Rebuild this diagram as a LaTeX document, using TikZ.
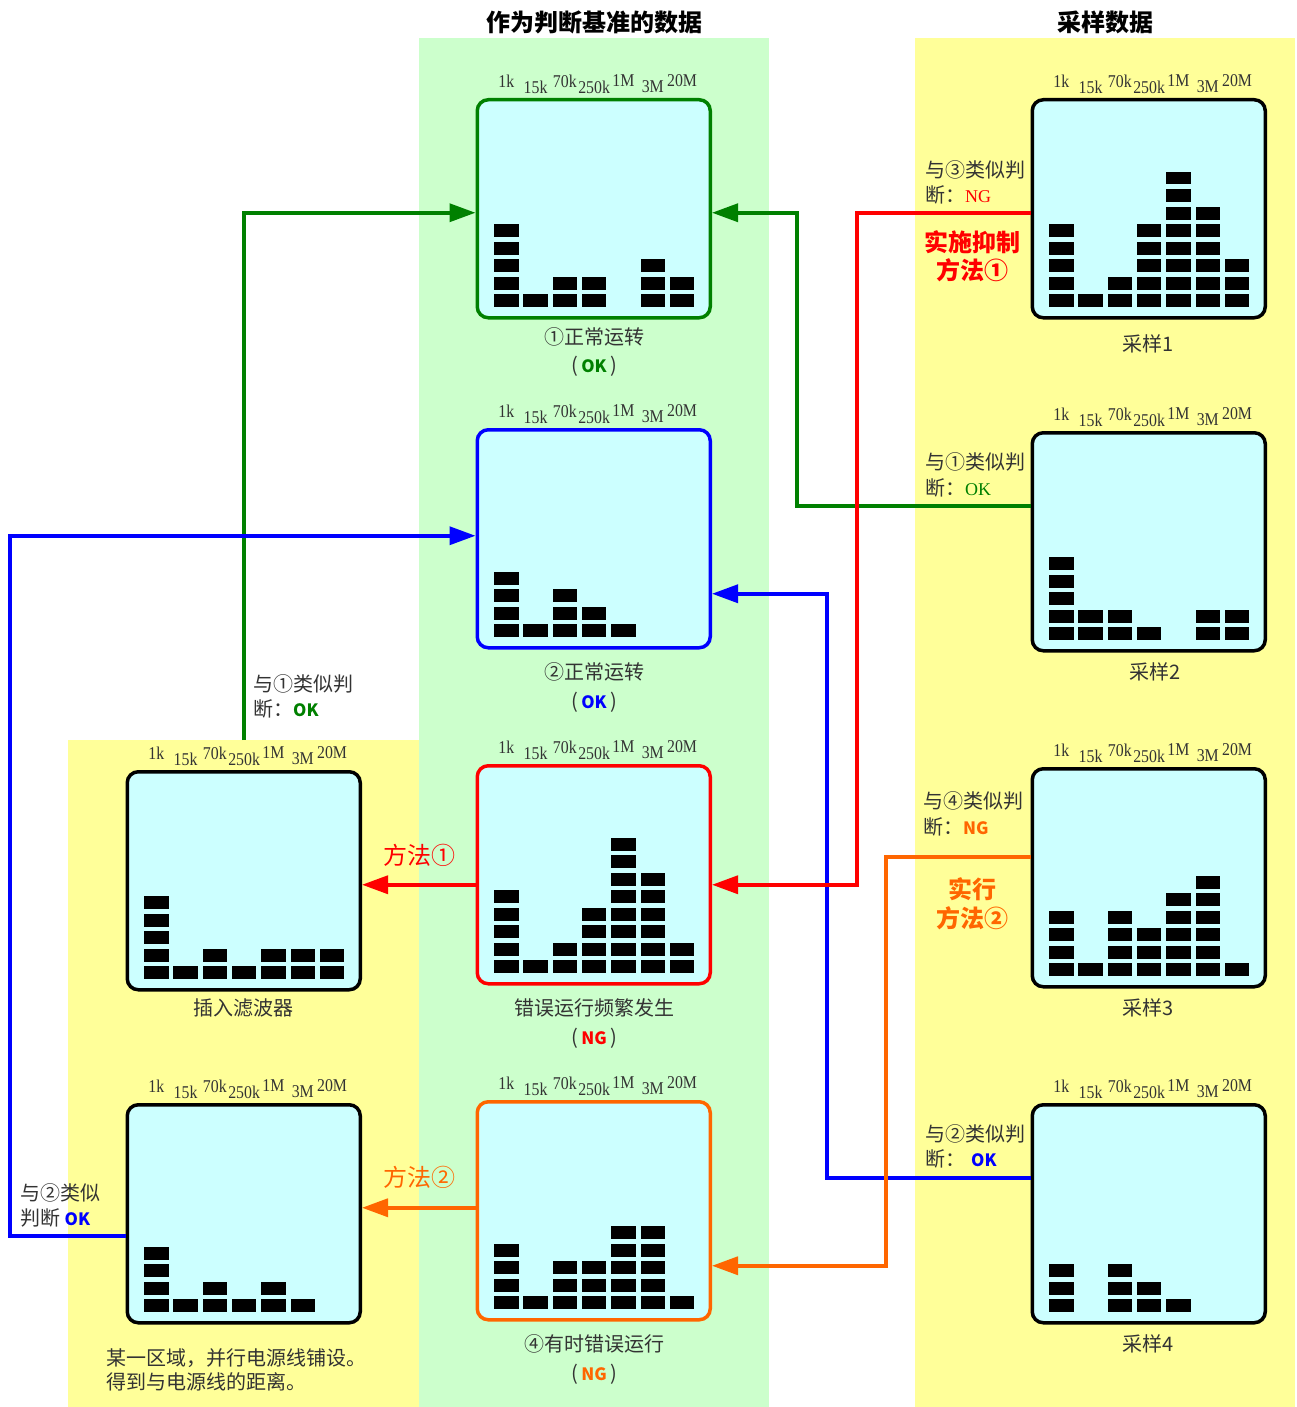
\documentclass[tikz,border=0pt]{standalone}
\usepackage{fontspec}
\setmainfont{Liberation Serif}
\newfontfamily\cjk{Noto Sans CJK SC}
\usetikzlibrary{arrows.meta,calc}
\definecolor{bggreen}{HTML}{CCFFCC}
\definecolor{bgyellow}{HTML}{FFFF99}
\definecolor{scr}{HTML}{CCFFFF}
\definecolor{cgreen}{HTML}{008000}
\definecolor{cblue}{HTML}{0000FF}
\definecolor{cred}{HTML}{FF0000}
\definecolor{corange}{HTML}{FF6600}
\definecolor{txt}{HTML}{333333}
\newcommand\okng[2]{\textcolor{#1}{\cjk\bfseries\fontsize{17}{17}\selectfont #2}}
\newcommand\specbox[5]{%
  \node[scrbox, draw=#4] (#1) at ({#2-1.5},{#3-1}) {};
  \foreach \h [count=\i from 0] in {#5} {
    \foreach \j in {1,...,8} {
      \ifnum\j>\h\relax\else
        \fill ({#2+17+\i*29.3},{#3+208-(\j-1)*17.5}) rectangle ++(24.5,-12.7);
      \fi
    }
  }
  \foreach \t [count=\i from 0] in {1k,15k,70k,250k,1M,3M,20M} {
    \ifodd\i\def\dy{-12}\else\def\dy{-18}\fi
    \node[freq] at ({#2+29.25+\i*29.3},{#3+\dy}) {\scalebox{0.88}[1]{\t}};
  }
}
\begin{document}
\begin{tikzpicture}[x=1pt,y=-1pt,
  scrbox/.style={line width=3.5pt, rounded corners=11pt, fill=scr, minimum width=233pt, minimum height=218pt, inner sep=0pt, anchor=north west},
  freq/.style={font=\fontsize{18}{18}\selectfont, text=txt, inner sep=0pt},
  lab/.style={font=\cjk\fontsize{20}{20}\selectfont, text=txt, inner sep=0pt},
  note/.style={lab, anchor=west},
  ttl/.style={font=\cjk\bfseries\fontsize{24}{24}\selectfont, text=black, inner sep=0pt},
  meth/.style={font=\cjk\bfseries\fontsize{24}{24}\selectfont, inner sep=0pt},
  methr/.style={font=\cjk\fontsize{24}{24}\selectfont, inner sep=0pt},
  conn/.style={line width=3.5pt, -{Triangle[length=26pt,width=18pt]}},
  plain/.style={line width=3.5pt}]
\useasboundingbox (0,0) rectangle (1297,1407);
% backgrounds
\fill[bggreen] (419,38) rectangle (769,1407);
\fill[bgyellow] (915,38) rectangle (1295,1407);
\fill[bgyellow] (68,740) rectangle (419,1407);
\coordinate (ytop) at (68,740);
% titles
\node[ttl] (t1) at (594,22) {作为判断基准的数据};
\node[ttl] (t2) at (1105,22) {采样数据};
% boxes
\specbox{b1}{477}{99}{cgreen}{5,1,2,2,0,3,2}
\specbox{b2}{477}{429}{cblue}{4,1,3,2,1,0,0}
\specbox{b3}{477}{765}{cred}{5,1,2,4,8,6,2}
\specbox{b4}{477}{1101}{corange}{4,1,3,3,5,5,1}
\specbox{s1}{1032}{99}{black}{5,1,2,5,8,6,3}
\specbox{s2}{1032}{432}{black}{5,2,2,1,0,2,2}
\specbox{s3}{1032}{768}{black}{4,1,4,3,5,6,1}
\specbox{s4}{1032}{1104}{black}{3,0,3,2,1,0,0}
\specbox{flt}{127}{771}{black}{5,1,2,1,2,2,2}
\specbox{pwr}{127}{1104}{black}{4,1,2,1,2,1,0}
% box labels
\node[lab] (l1) at (594,337) {①正常运转};
\node[lab] (k1) at (594,366) {(\,\okng{cgreen}{OK}\,)};
\node[lab] (l2) at (594,672) {②正常运转};
\node[lab] (k2) at (594,702) {(\,\okng{cblue}{OK}\,)};
\node[lab] (l3) at (594,1008) {错误运行频繁发生};
\node[lab] (k3) at (594,1038) {(\,\okng{cred}{NG}\,)};
\node[lab] (l4) at (594,1344) {④有时错误运行};
\node[lab] (k4) at (594,1374) {(\,\okng{corange}{NG}\,)};
\node[lab] (ls1) at (1148,344) {采样1};
\node[lab] (ls2) at (1155,672) {采样2};
\node[lab] (ls3) at (1148,1008) {采样3};
\node[lab] (ls4) at (1148,1344) {采样4};
\node[lab] (lf) at (243,1008) {插入滤波器};
\node[note] (lp1) at (106,1358) {某一区域，并行电源线铺设。};
\node[note] (lp2) at (106,1382) {得到与电源线的距离。};
% annotations
\node[note] (a1) at (925,170) {与③类似判};
\node[note] (a1b) at (925,195) {断：\textcolor{cred}{\rmfamily\fontsize{18}{18}\selectfont NG}};
\node[meth, text=cred] (m1) at (972,242) {实施抑制};
\node[meth, text=cred] (m1b) at (972,270) {方法①};
\node[note] (a2) at (925,462) {与①类似判};
\node[note] (a2b) at (925,488) {断：\textcolor{cgreen}{\rmfamily\fontsize{18}{18}\selectfont OK}};
\node[note] (a3) at (923,801) {与④类似判};
\node[note] (a3b) at (923,827) {断：\okng{corange}{NG}};
\node[meth, text=corange] (m2) at (972,889) {实行};
\node[meth, text=corange] (m2b) at (972,918) {方法②};
\node[note] (a4) at (925,1134) {与②类似判};
\node[note] (a4b) at (925,1159) {断：\hspace{6pt}\okng{cblue}{OK}};
\node[note] (a5) at (253,684) {与①类似判};
\node[note] (a5b) at (253,709) {断：\okng{cgreen}{OK}};
\node[note] (a6) at (20,1193) {与②类似};
\node[note] (a6b) at (20,1218) {判断 \okng{cblue}{OK}};
\node[methr, text=cred] (m3) at (419,855) {方法①};
\node[methr, text=corange] (m4) at (419,1177) {方法②};
% bend columns
\coordinate (xg) at (797,0);
\coordinate (xb) at (827,0);
\coordinate (xr) at (857,0);
\coordinate (xo) at (886,0);
\coordinate (xl) at (10,0);
% green
\coordinate (b1w) at ($(b1.west)+(0,4)$);
\coordinate (b1e) at ($(b1.east)+(0,4)$);
\coordinate (f0) at (flt.north |- ytop);
\draw[conn, cgreen] (f0) -- (f0 |- b1w) -- (b1w);
\coordinate (s2o) at ($(s2.west)+(0,-36)$);
\draw[conn, cgreen] (s2o) -- (xg |- s2o) -- (xg |- b1e) -- (b1e);
% blue
\coordinate (p0) at ($(pwr.west)+(0,22)$);
\coordinate (b2w) at ($(b2.west)+(0,-3)$);
\draw[conn, cblue] (p0) -- (xl |- p0) -- (xl |- b2w) -- (b2w);
\coordinate (s4o) at ($(s4.west)+(0,-36)$);
\coordinate (b2e) at ($(b2.east)+(0,55)$);
\draw[conn, cblue] (s4o) -- (xb |- s4o) -- (xb |- b2e) -- (b2e);
% red
\coordinate (s1o) at ($(s1.west)+(0,4)$);
\coordinate (b3e) at ($(b3.east)+(0,10)$);
\draw[conn, cred] (s1o) -- (xr |- s1o) -- (xr |- b3e) -- (b3e);
\coordinate (b3w) at ($(b3.west)+(0,10)$);
\draw[conn, cred] (b3w) -- (flt.east |- b3w);
% orange
\coordinate (s3o) at ($(s3.west)+(0,-21)$);
\coordinate (b4e) at ($(b4.east)+(0,55)$);
\draw[conn, corange] (s3o) -- (xo |- s3o) -- (xo |- b4e) -- (b4e);
\coordinate (b4w) at ($(b4.west)+(0,-3)$);
\draw[conn, corange] (b4w) -- (pwr.east |- b4w);
\end{tikzpicture}
\end{document}
